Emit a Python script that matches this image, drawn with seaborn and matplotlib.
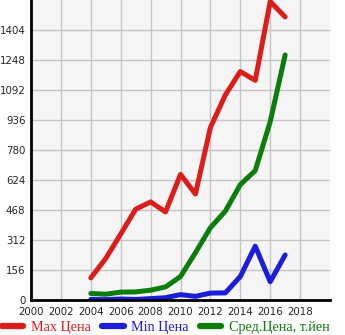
import matplotlib
matplotlib.use("Agg")
import matplotlib.pyplot as plt
import seaborn as sns
import pandas as pd

# Price history by model year
years = [2004, 2005, 2006, 2007, 2008, 2009, 2010, 2011, 2012, 2013, 2014, 2015, 2016, 2017]
max_price = [115, 216, 343, 472, 510, 458, 653, 551, 897, 1066, 1188, 1142, 1552, 1472]
min_price = [3, 2, 5, 3, 7, 12, 28, 19, 36, 37, 122, 280, 95, 234]
avg_price = [34, 30, 41, 42, 51, 68, 122, 246, 376, 462, 600, 673, 927, 1274]

series_labels = ["Max Цена", "Min Цена", "Сред.Цена, т.йен"]
series_colors = ["#dd1c1c", "#1c1cdd", "#0b7d0b"]

y_ticks = [0, 156, 312, 468, 624, 780, 936, 1092, 1248, 1404]
x_ticks = list(range(2000, 2019, 2))

df = pd.DataFrame({"year": years, series_labels[0]: max_price,
                   series_labels[1]: min_price, series_labels[2]: avg_price})

sns.set_style("white")
plt.rcParams["font.family"] = ["DejaVu Sans"]

fig = plt.figure(figsize=(3.45, 3.35), dpi=100)
ax = fig.add_axes([31 / 345, 35 / 335, 299 / 345, 300 / 335])
ax.set_facecolor("#f5f5f5")

for label, color in zip(series_labels, series_colors):
    sns.lineplot(data=df, x="year", y=label, color=color, linewidth=3.6,
                 ax=ax, label=label, legend=False)
for line in ax.get_lines():
    line.set_solid_capstyle("round")
    line.set_solid_joinstyle("round")

ax.set_xlim(2000, 2020)
ax.set_ylim(0, 1560)
ax.set_xticks(x_ticks)
ax.set_yticks(y_ticks)
ax.set_xticklabels([str(t) for t in x_ticks], fontsize=7.4)
ax.set_yticklabels([str(t) for t in y_ticks], fontsize=7.4)
ax.set_xlabel("")
ax.set_ylabel("")
ax.grid(True, color="#c4c4c4", linewidth=1.0)
ax.set_axisbelow(True)
ax.tick_params(axis="y", length=3, width=1, pad=1, color="black")
ax.tick_params(axis="x", length=3, width=1, pad=2, color="black")

for side in ("top", "right"):
    ax.spines[side].set_visible(False)
for side in ("left", "bottom"):
    ax.spines[side].set_color("black")
    ax.spines[side].set_linewidth(2)

handles = ax.get_lines()[:3]
leg = fig.legend(handles, series_labels, loc="center left", bbox_to_anchor=(0.006, 0.022),
                 ncol=3, frameon=False, handlelength=1.5, handletextpad=0.55,
                 columnspacing=0.8, borderaxespad=0, borderpad=0,
                 prop={"family": "Liberation Serif", "size": 10.2})
for text, color in zip(leg.get_texts(), series_colors):
    text.set_color(color)
for lh in leg.get_lines():
    lh.set_linewidth(4.5)
    lh.set_solid_capstyle("round")

fig.savefig("out.png", dpi=100)
